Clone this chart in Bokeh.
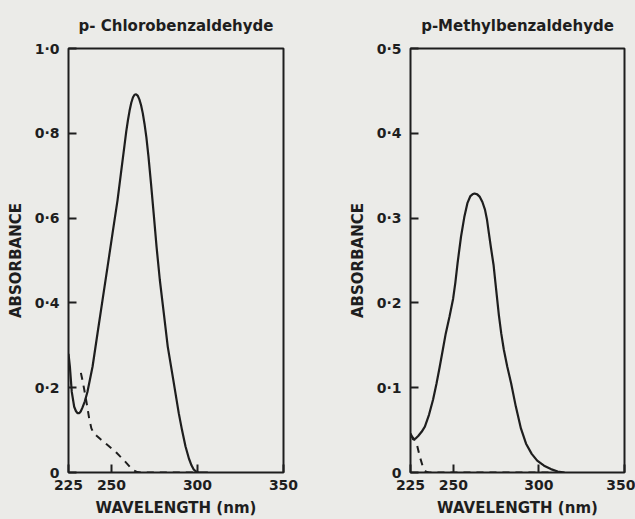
from bokeh.plotting import figure
from bokeh.layouts import row
from bokeh.models import FixedTicker, Range1d
from bokeh.embed import file_html
from bokeh.resources import INLINE

# ---- data ----
cl_solid_nm = [225, 225.8, 226.9, 228.3, 229.3, 230.2, 231.2, 232.1, 233.1, 234.5, 236, 239, 241.9, 244.8,
               247.7, 250.6, 253.5, 255.5, 257.5, 258.6, 259.6, 260.5, 261.5, 262.5, 263.4, 264.3, 265.2,
               266.2, 267.2, 268.2, 269.2, 270.3, 271.5, 273, 274.6, 276.2, 278.1, 280.4, 282.7, 285.9,
               289.1, 291, 293, 295, 296.5, 297.8, 299.2, 300.7, 306]
cl_solid_abs = [0.28, 0.25, 0.19, 0.155, 0.145, 0.14, 0.14, 0.144, 0.153, 0.168, 0.19, 0.25, 0.329, 0.407,
                0.485, 0.564, 0.642, 0.706, 0.77, 0.805, 0.832, 0.853, 0.872, 0.885, 0.891, 0.892, 0.889,
                0.88, 0.866, 0.847, 0.822, 0.79, 0.745, 0.68, 0.607, 0.532, 0.454, 0.376, 0.297, 0.219,
                0.14, 0.1, 0.062, 0.033, 0.017, 0.007, 0.002, 0.0, 0.0]

cl_dash_nm = [232.2, 233, 234.1, 235.5, 237, 238.3, 239.5, 241.5, 244, 247, 250, 252.8, 255, 257,
              259, 261, 263, 265, 267, 280, 300]
cl_dash_abs = [0.235, 0.22, 0.197, 0.165, 0.128, 0.104, 0.094, 0.086, 0.077, 0.067, 0.057, 0.047, 0.038, 0.03,
               0.021, 0.012, 0.005, 0.001, 0.0, 0.0, 0.0]

me_solid_nm = [225, 226.6, 228, 229.5, 231.5, 233.4, 235.8, 238.2, 240.2, 242.1, 243.9, 245.6, 247.8,
               249.9, 251.2, 252.5, 254.5, 256.5, 258.3, 260, 261.2, 262.4, 264, 265.5, 267, 268.5,
               269.7, 270.8, 272, 273.5, 274.6, 276.6, 278, 279.5, 281.5, 283.8, 286.5, 289.5, 292.5,
               295.8, 299, 303, 307, 311, 315]
me_solid_abs = [0.046, 0.039, 0.04, 0.043, 0.048, 0.054, 0.068, 0.086, 0.105, 0.125, 0.145, 0.164, 0.184,
                0.205, 0.224, 0.247, 0.278, 0.302, 0.318, 0.326, 0.328, 0.329, 0.328, 0.325, 0.319, 0.31,
                0.298, 0.282, 0.265, 0.245, 0.224, 0.186, 0.164, 0.145, 0.125, 0.105, 0.078, 0.052, 0.034,
                0.022, 0.014, 0.008, 0.004, 0.0012, 0.0]

me_dash_nm = [225, 226.5, 228.5, 230.4, 232.4, 234, 236, 260, 290, 308]
me_dash_abs = [0.044, 0.041, 0.035, 0.019, 0.0055, 0.001, 0.0, 0.0, 0.0, 0.0]

x_ticks = [225, 250, 300, 350]
cl_yticks = [0, 0.2, 0.4, 0.6, 0.8, 1.0]
cl_ylabels = ["0", "0·2", "0·4", "0·6", "0·8", "1·0"]
me_yticks = [0, 0.1, 0.2, 0.3, 0.4, 0.5]
me_ylabels = ["0", "0·1", "0·2", "0·3", "0·4", "0·5"]

titles = ["p- Chlorobenzaldehyde", "p-Methylbenzaldehyde"]
x_label = "WAVELENGTH (nm)"
y_label = "ABSORBANCE"

BG = "#ebebe8"
INK = "#1e1e1e"
FONT = "DejaVu Sans"


def make_panel(title, w, bl, br, ymax, yticks, ylabels, solid_x, solid_y, dash_x, dash_y):
    p = figure(width=w, height=519, output_backend="svg", toolbar_location=None,
               x_range=Range1d(225, 350), y_range=Range1d(0, ymax),
               min_border_left=bl, min_border_right=br, min_border_top=48, min_border_bottom=46,
               background_fill_color=BG, border_fill_color=BG)
    p.title.text = title
    p.title.align = "center"
    p.title.text_font = FONT
    p.title.text_font_size = "15px"
    p.title.text_font_style = "bold"
    p.title.text_color = INK
    p.title.standoff = 28
    p.grid.visible = False
    p.outline_line_color = INK
    p.outline_line_width = 2
    p.outline_line_alpha = 1

    p.xaxis.ticker = FixedTicker(ticks=x_ticks)
    p.yaxis.ticker = FixedTicker(ticks=yticks)
    p.yaxis.major_label_overrides = {float(t): l for t, l in zip(yticks, ylabels)}
    for ax in (p.xaxis, p.yaxis):
        ax.axis_line_color = None
        ax.major_tick_in = 8
        ax.major_tick_out = 0
        ax.major_tick_line_color = INK
        ax.major_tick_line_width = 2
        ax.minor_tick_line_color = None
        ax.major_label_text_font = FONT
        ax.major_label_text_font_size = "14px"
        ax.major_label_text_font_style = "bold"
        ax.major_label_text_color = INK
        ax.axis_label_text_font = FONT
        ax.axis_label_text_font_size = "15px"
        ax.axis_label_text_font_style = "bold"
        ax.axis_label_text_color = INK
    p.xaxis.axis_label = x_label
    p.yaxis.axis_label = y_label
    p.xaxis.major_label_standoff = 7
    p.yaxis.major_label_standoff = 9
    p.xaxis.axis_label_standoff = 6
    p.yaxis.axis_label_standoff = 7

    p.line(solid_x, solid_y, line_color=INK, line_width=2.2)
    p.line(dash_x, dash_y, line_color=INK, line_width=2, line_dash="7 6")
    return p


p1 = make_panel(titles[0], 320, 68, 37, 1.0, cl_yticks, cl_ylabels,
                cl_solid_nm, cl_solid_abs, cl_dash_nm, cl_dash_abs)
p2 = make_panel(titles[1], 315, 90, 11, 0.5, me_yticks, me_ylabels,
                me_solid_nm, me_solid_abs, me_dash_nm, me_dash_abs)

layout = row(p1, p2, spacing=0, styles={"background-color": BG})
open("out.html", "w").write(file_html(layout, INLINE))
